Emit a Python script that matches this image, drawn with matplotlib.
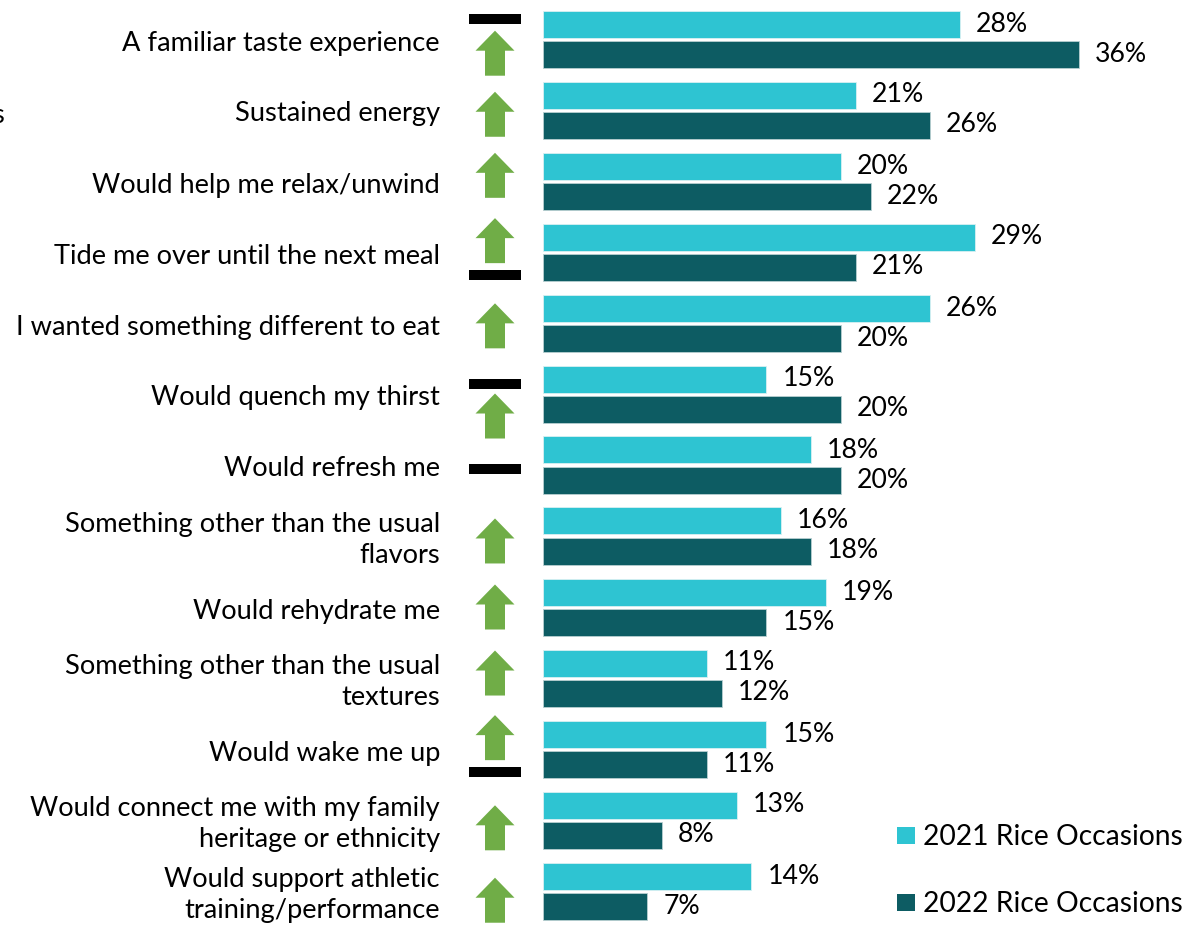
import matplotlib
matplotlib.use("Agg")
import matplotlib.pyplot as plt
from matplotlib.patches import Polygon, Rectangle

# ---- data -------------------------------------------------------------
categories = [
    "A familiar taste experience",
    "Sustained energy",
    "Would help me relax/unwind",
    "Tide me over until the next meal",
    "I wanted something different to eat",
    "Would quench my thirst",
    "Would refresh me",
    "Something other than the usual\nflavors",
    "Would rehydrate me",
    "Something other than the usual\ntextures",
    "Would wake me up",
    "Would connect me with my family\nheritage or ethnicity",
    "Would support athletic\ntraining/performance",
]
values_2021 = [28, 21, 20, 29, 26, 15, 18, 16, 19, 11, 15, 13, 14]
values_2022 = [36, 26, 22, 21, 20, 20, 20, 18, 15, 12, 11, 8, 7]
series_names = ["2021 Rice Occasions", "2022 Rice Occasions"]

# significance indicators per row: "up" arrow, "dash" (no change)
indicators = [
    ["dash", "up"], ["up"], ["up"], ["up", "dash"], ["up"], ["dash", "up"],
    ["dash"], ["up"], ["up"], ["up"], ["up", "dash"], ["up"], ["up"],
]

# ---- styling ----------------------------------------------------------
LIGHT = "#2EC4D2"
DARK = "#0D5C63"
GREEN = "#70AD47"
FONT = "Lato"
plt.rcParams["font.family"] = [FONT, "DejaVu Sans"]

W, H, DPI = 1189, 925, 100
fig = plt.figure(figsize=(W / DPI, H / DPI), dpi=DPI)

ax_left, ax_w = 543, 640          # pixel extent of the plotting area
px_per_unit_x = 14.89
px_per_row = 71.0
ax = fig.add_axes([ax_left / W, 0, ax_w / W, 1])
ax.set_xlim(0, ax_w / px_per_unit_x)
ax.set_ylim((H - 39) / px_per_row, -39 / px_per_row)
ax.axis("off")

bar_h = 27 / px_per_row
off = 15 / px_per_row
rows = list(range(len(categories)))

ax.barh([r - off for r in rows], values_2021, height=bar_h, color=LIGHT,
        edgecolor="#d8f0f2", linewidth=0.6)
ax.barh([r + off for r in rows], values_2022, height=bar_h, color=DARK,
        edgecolor="#b8cfd1", linewidth=0.6)

cat_font = 19.6
val_font = 19.2
leg_font = 20.3
for r, v1, v2 in zip(rows, values_2021, values_2022):
    ax.annotate(f"{v1}%", (v1, r - off), xytext=(11.5, 0), textcoords="offset points",
                ha="left", va="center", fontsize=val_font)
    ax.annotate(f"{v2}%", (v2, r + off), xytext=(11.5, 0), textcoords="offset points",
                ha="left", va="center", fontsize=val_font)

# category labels, right aligned left of the indicator column
lab_x = (440 - ax_left) / px_per_unit_x
for r, c in zip(rows, categories):
    ax.text(lab_x, r + 4 / px_per_row, c, ha="right", va="center",
            fontsize=cat_font, linespacing=1.32, clip_on=False)

# indicator column
cx = (495 - ax_left) / px_per_unit_x
ux = 1 / px_per_unit_x
uy = 1 / px_per_row


def draw_up(yc):
    hw_head, hw_shaft = 19.5 * ux, 10 * ux
    top, bot = yc - 22.5 * uy, yc + 22.5 * uy
    neck = top + 20 * uy
    pts = [(cx, top), (cx + hw_head, neck), (cx + hw_shaft, neck),
           (cx + hw_shaft, bot), (cx - hw_shaft, bot), (cx - hw_shaft, neck),
           (cx - hw_head, neck)]
    ax.add_patch(Polygon(pts, closed=True, facecolor=GREEN, edgecolor="none",
                         clip_on=False))


def draw_dash(yc):
    ax.add_patch(Rectangle((cx - 26 * ux, yc - 5 * uy), 52 * ux, 10 * uy,
                           facecolor="black", edgecolor="none", clip_on=False))


single_offsets = [0, 0.06, -0.08, 0, 0.04, 0, 0.06, 0.07, 0.0, -0.07, 0, 0.11, 0.13]
for r, ind in enumerate(indicators):
    if len(ind) == 1:
        y = r + single_offsets[r]
        (draw_up if ind[0] == "up" else draw_dash)(y)
    else:
        first, second = ind
        if first == "dash":
            d_off, a_off = (-0.28, 0.20) if r == 0 else (-0.14, 0.31)
            draw_dash(r + d_off)
            draw_up(r + a_off)
        else:
            draw_up(r - 0.16)
            draw_dash(r + 0.33)

# legend
leg_items = [(series_names[0], LIGHT, 836), (series_names[1], DARK, 903)]
for name, col, yc in leg_items:
    fig.add_artist(Rectangle((897 / W, 1 - (yc + 8) / H), 18 / W, 17 / H,
                             transform=fig.transFigure, facecolor=col,
                             edgecolor="none"))
    fig.text(923 / W, 1 - (yc + 1) / H, name, ha="left", va="center",
             fontsize=leg_font)

# fragment of a neighbouring label at the left border
fig.text(4 / W, 1 - 115 / H, "s", ha="right", va="center", fontsize=cat_font)

fig.savefig("out.png", dpi=DPI, facecolor="white")
